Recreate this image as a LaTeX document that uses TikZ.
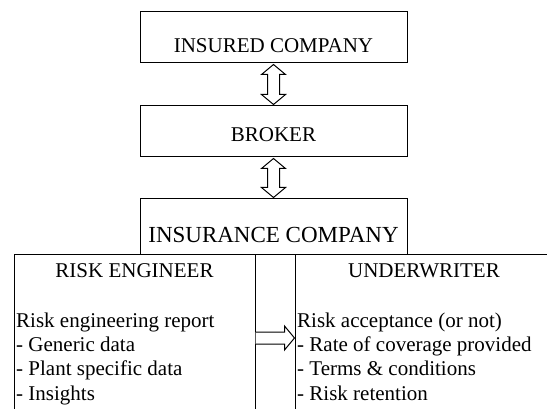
\documentclass[tikz,border=0pt]{standalone}
\usepackage{fontspec}
\setmainfont{LiberationSerif}[Extension=.ttf, UprightFont=*-Regular, BoldFont=*-Bold, ItalicFont=*-Italic, BoldItalicFont=*-BoldItalic]
\usetikzlibrary{calc}
\tikzset{
  box/.style={draw, line width=1pt, inner sep=0pt, fill=none},
  txt/.style={inner sep=0pt, font=\rmfamily\fontsize{21}{24}\selectfont},
  bigtxt/.style={inner sep=0pt, font=\rmfamily\fontsize{23}{26}\selectfont},
  arrowline/.style={draw, line width=1pt, fill=white, line join=miter},
}
\newcommand\vdarrow[2]{%
  \path[arrowline] let \p1=(#1), \p2=(#2) in
    (\x1,\y1) -- (\x1+12pt,\y1-10pt) -- (\x1+6pt,\y1-10pt) -- (\x1+6pt,\y2+10pt)
    -- (\x1+12pt,\y2+10pt) -- (\x1,\y2) -- (\x1-12pt,\y2+10pt) -- (\x1-6pt,\y2+10pt)
    -- (\x1-6pt,\y1-10pt) -- (\x1-12pt,\y1-10pt) -- cycle;}
\begin{document}
\begin{tikzpicture}[x=1pt,y=-1pt]
\useasboundingbox (0,0) rectangle (547,409);
\clip (0,0) rectangle (547,409);
\fill[white] (0,0) rectangle (547,409);
% boxes
\node[box, minimum width=267pt, minimum height=51pt] (insured) at (273.5,37.5) {};
\node[box, minimum width=267pt, minimum height=51pt] (broker) at (273.5,131.5) {};
\node[box, minimum width=267pt, minimum height=56pt] (insurance) at (273.5,227) {};
\node[box, minimum width=241pt, minimum height=200pt] (riskeng) at (134.5,355) {};
\node[box, minimum width=260pt, minimum height=200pt] (under) at (425,355) {};
% texts
\node[txt, anchor=base] (t1) at (273.5,53) {INSURED COMPANY};
\node[txt, anchor=base] (t2) at (273.5,142) {BROKER};
\node[bigtxt, anchor=base] (t3) at (273.5,243) {INSURANCE COMPANY};
\node[txt, anchor=base] (t4) at (134.5,278) {RISK ENGINEER};
\node[txt, anchor=base west] (r1) at (16,327) {Risk engineering report};
\node[txt, anchor=base west] (r2) at (16,351.3) {- Generic data};
\node[txt, anchor=base west] (r3) at (16,375.6) {- Plant specific data};
\node[txt, anchor=base west] (r4) at (16,400) {- Insights};
\node[txt, anchor=base] (t5) at (424,278) {UNDERWRITER};
\node[txt, anchor=base west] (u1) at (297,327) {Risk acceptance (or not)};
\node[txt, anchor=base west] (u2) at (297,351.3) {- Rate of coverage provided};
\node[txt, anchor=base west] (u3) at (297,375.6) {- Terms \& conditions};
\node[txt, anchor=base west] (u4) at (297,400) {- Risk retention};
% vertical double arrows
\coordinate (a1) at ($(insured.south)+(0,1)$);
\coordinate (b1) at ($(broker.north)+(0,-1)$);
\vdarrow{a1}{b1}
\coordinate (a2) at ($(broker.south)+(0,1)$);
\coordinate (b2) at ($(insurance.north)+(0,-1)$);
\vdarrow{a2}{b2}
% horizontal arrow
\coordinate (ylev) at (0,338);
\coordinate (hs) at (riskeng.east |- ylev);
\coordinate (he) at (under.west |- ylev);
\path[arrowline] let \p1=(hs), \p2=(he) in
  (\x1,\y1+6pt) -- (\x2-10pt,\y1+6pt) -- (\x2-10pt,\y1+12pt) -- (\x2,\y1)
  -- (\x2-10pt,\y1-12pt) -- (\x2-10pt,\y1-6pt) -- (\x1,\y1-6pt);
\end{tikzpicture}
\end{document}
